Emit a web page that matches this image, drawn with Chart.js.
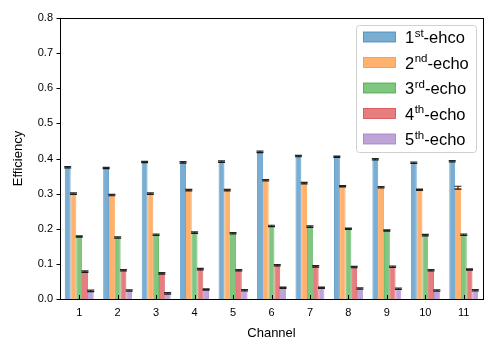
<!DOCTYPE html>
<html>
<head>
<meta charset="utf-8">
<script src="https://cdn.jsdelivr.net/npm/chart.js@4.4.1/dist/chart.umd.min.js"></script>
<style>
html,body{margin:0;padding:0;background:#fff;}
#wrap{width:497px;height:353px;position:relative;}
</style>
</head>
<body>
<div id="wrap"><canvas id="c" width="497" height="353"></canvas></div>
<script>
const channels = ["1","2","3","4","5","6","7","8","9","10","11"];
const echo1 = [0.375,0.373,0.390,0.389,0.391,0.419,0.407,0.405,0.398,0.388,0.392];
const echo2 = [0.300,0.296,0.300,0.310,0.310,0.338,0.330,0.321,0.318,0.311,0.317];
const echo3 = [0.178,0.175,0.183,0.189,0.187,0.208,0.206,0.200,0.195,0.182,0.183];
const echo4 = [0.078,0.082,0.073,0.085,0.082,0.096,0.093,0.091,0.092,0.082,0.084];
const echo5 = [0.023,0.024,0.016,0.027,0.025,0.032,0.032,0.030,0.029,0.024,0.025];
const err1 = [0.002,0.002,0.002,0.002,0.002,0.002,0.002,0.002,0.002,0.002,0.002];
const err2 = [0.002,0.002,0.002,0.002,0.002,0.002,0.002,0.002,0.002,0.002,0.004];
const err3 = [0.002,0.002,0.002,0.002,0.002,0.002,0.002,0.002,0.002,0.002,0.002];
const err4 = [0.002,0.002,0.002,0.002,0.002,0.002,0.002,0.002,0.002,0.002,0.002];
const err5 = [0.002,0.002,0.002,0.002,0.002,0.002,0.002,0.002,0.002,0.002,0.002];
const legendNums = ["1","2","3","4","5"];
const legendSups = ["st","nd","rd","th","th"];
const legendTails = ["-ehco","-echo","-echo","-echo","-echo"];
const yTicks = [0.0,0.1,0.2,0.3,0.4,0.5,0.6,0.7,0.8];
const xTitle = "Channel";
const yTitle = "Efficiency";

const fills = ["#79add2","#ffb26e","#80c680","#e67d7e","#bfa4d7"];
const edges = ["#3f87bd","#ff9333","#45a845","#d9474a","#a07fc6"];
const values = [echo1,echo2,echo3,echo4,echo5];
const errs = [err1,err2,err3,err4,err5];
const FONT = "'Liberation Sans', Arial, Helvetica, sans-serif";

const datasets = values.map((v,i)=>({
  label: legendNums[i]+legendSups[i]+legendTails[i],
  data: v,
  errors: errs[i],
  backgroundColor: fills[i],
  borderColor: edges[i],
  borderWidth: 0.8,
  categoryPercentage: 0.75,
  barPercentage: 1.0
}));

const decor = {
  id:'decor',
  afterDatasetsDraw(chart){
    const ctx = chart.ctx;
    const ys = chart.scales.y;
    chart.data.datasets.forEach((ds,di)=>{
      const meta = chart.getDatasetMeta(di);
      meta.data.forEach((el,j)=>{
        const v = ds.data[j], e = ds.errors[j];
        const yt = ys.getPixelForValue(v+e), yb = ys.getPixelForValue(v-e);
        ctx.save();
        ctx.strokeStyle = 'rgba(0,0,0,0.85)';
        ctx.lineWidth = 1.2;
        ctx.beginPath();
        ctx.moveTo(el.x, yt); ctx.lineTo(el.x, yb);
        ctx.moveTo(el.x-3.5, yt); ctx.lineTo(el.x+3.5, yt);
        ctx.moveTo(el.x-3.5, yb); ctx.lineTo(el.x+3.5, yb);
        ctx.stroke();
        ctx.restore();
      });
    });
  },
  afterDraw(chart){
    const ctx = chart.ctx;
    const a = chart.chartArea;
    const xs = chart.scales.x, ys = chart.scales.y;
    ctx.save();
    ctx.strokeStyle = '#000';
    ctx.lineWidth = 1;
    ctx.strokeRect(Math.round(a.left)+0.5, Math.round(a.top)+0.5, Math.round(a.right-a.left), Math.round(a.bottom-a.top));
    ctx.beginPath();
    channels.forEach((c,i)=>{
      const x = Math.round(xs.getPixelForValue(i))+0.5;
      ctx.moveTo(x, a.bottom); ctx.lineTo(x, a.bottom-4);
    });
    yTicks.forEach(t=>{
      const y = Math.round(ys.getPixelForValue(t))+0.5;
      ctx.moveTo(a.left, y); ctx.lineTo(a.left-3.5, y);
    });
    ctx.stroke();
    // legend
    const lx=356.5, ly=25.5, lw=120, lh=127;
    ctx.beginPath();
    ctx.roundRect(lx,ly,lw,lh,3);
    ctx.fillStyle='rgba(255,255,255,0.85)';
    ctx.fill();
    ctx.strokeStyle='#d0d0d0';
    ctx.stroke();
    for(let i=0;i<5;i++){
      const cy = 37 + i*25.5;
      ctx.fillStyle = fills[i];
      ctx.fillRect(363.5, cy-5, 32, 10);
      ctx.strokeStyle = edges[i];
      ctx.lineWidth = 0.8;
      ctx.strokeRect(363.5, cy-5, 32, 10);
      ctx.fillStyle = '#000';
      ctx.textBaseline = 'alphabetic';
      ctx.textAlign = 'left';
      let tx = 405;
      const base = cy + 6;
      ctx.font = '16.5px '+FONT;
      ctx.fillText(legendNums[i], tx, base);
      tx += ctx.measureText(legendNums[i]).width;
      ctx.font = '11.5px '+FONT;
      ctx.fillText(legendSups[i], tx+0.5, base-6.5);
      tx += ctx.measureText(legendSups[i]).width + 0.5;
      ctx.font = '16.5px '+FONT;
      ctx.fillText(legendTails[i], tx, base);
    }
    ctx.restore();
  }
};

new Chart(document.getElementById('c'), {
  type:'bar',
  data:{ labels: channels, datasets },
  options:{
    responsive:false,
    animation:false,
    devicePixelRatio:1,
    layout:{ padding:{ left:0, right:14, top:18, bottom:0 } },
    plugins:{ legend:{display:false}, tooltip:{enabled:false} },
    scales:{
      x:{
        offset:true,
        grid:{ display:false, drawTicks:false },
        border:{ display:false },
        ticks:{ color:'#000', font:{ family:FONT, size:11 }, padding:7, maxRotation:0 },
        title:{ display:true, text:xTitle, color:'#000', font:{ family:FONT, size:13 }, padding:{top:4,bottom:12} },
        afterFit(s){ s.height = 54; }
      },
      y:{
        min:0, max:0.8,
        grid:{ display:false, drawTicks:false },
        border:{ display:false },
        afterBuildTicks(s){ s.ticks = yTicks.map(v=>({value:v})); },
        ticks:{ color:'#000', font:{ family:FONT, size:11 }, padding:7, callback:(v)=>Number(v).toFixed(1) },
        title:{ display:true, text:yTitle, color:'#000', font:{ family:FONT, size:13 }, padding:{top:11,bottom:6} },
        afterFit(s){ s.width = 60; }
      }
    }
  },
  plugins:[decor]
});
</script>
</body>
</html>
